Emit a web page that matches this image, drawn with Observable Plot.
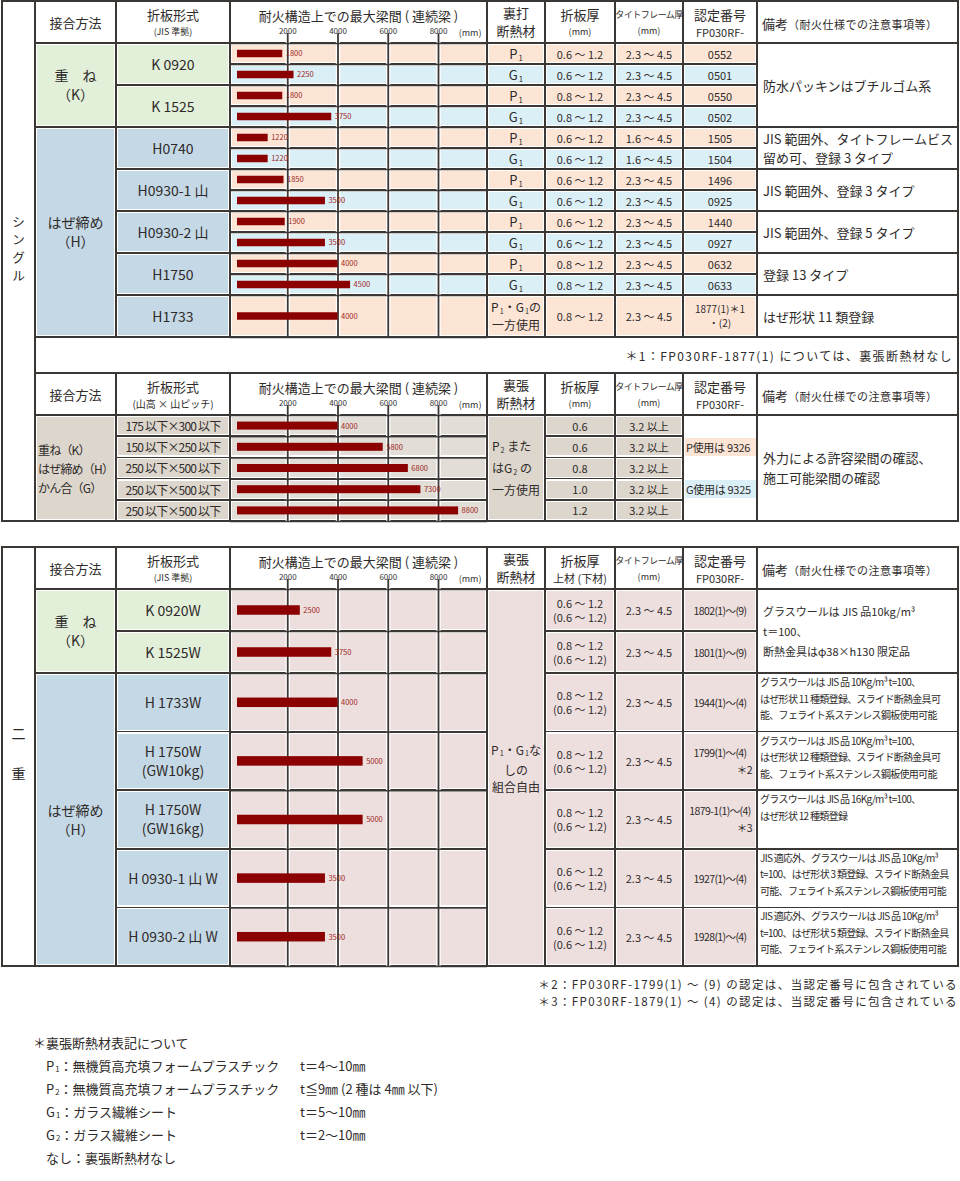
<!DOCTYPE html>
<html><head><meta charset="utf-8">
<script src="https://cdn.jsdelivr.net/npm/d3@7"></script>
<script src="https://cdn.jsdelivr.net/npm/@observablehq/plot@0.6"></script>
<style>
body{margin:0;background:#fff;font-family:"Noto Sans CJK JP","Noto Sans",sans-serif;color:#2e2b2a;}
#page{position:relative;width:960px;height:1181px;overflow:hidden;}
.sb{font-size:60%;position:relative;top:0.22em;margin-left:1px;}
</style></head>
<body><div id="page"></div>
<script>
// ================= DATA =================
const ticks = [2000, 4000, 6000, 8000];

// --- シングル (JIS 準拠) ---
const singleMethod = ["重　ね\n（K）","重　ね\n（K）","重　ね\n（K）","重　ね\n（K）",
  "はぜ締め\n（H）","はぜ締め\n（H）","はぜ締め\n（H）","はぜ締め\n（H）","はぜ締め\n（H）",
  "はぜ締め\n（H）","はぜ締め\n（H）","はぜ締め\n（H）","はぜ締め\n（H）"];
const singleForm = ["K 0920","K 0920","K 1525","K 1525","H0740","H0740","H0930-1 山","H0930-1 山",
  "H0930-2 山","H0930-2 山","H1750","H1750","H1733"];
const singleSpan = [1800, 2250, 1800, 3750, 1220, 1220, 1850, 3500, 1900, 3500, 4000, 4500, 4000];
const singleInsul = ["P1","G1","P1","G1","P1","G1","P1","G1","P1","G1","P1","G1","P1・G1の\n一方使用"];
const singleThick = ["0.6 ～ 1.2","0.6 ～ 1.2","0.8 ～ 1.2","0.8 ～ 1.2","0.6 ～ 1.2","0.6 ～ 1.2",
  "0.6 ～ 1.2","0.6 ～ 1.2","0.6 ～ 1.2","0.6 ～ 1.2","0.8 ～ 1.2","0.8 ～ 1.2","0.8 ～ 1.2"];
const singleFrame = ["2.3 ～ 4.5","2.3 ～ 4.5","2.3 ～ 4.5","2.3 ～ 4.5","1.6 ～ 4.5","1.6 ～ 4.5",
  "2.3 ～ 4.5","2.3 ～ 4.5","2.3 ～ 4.5","2.3 ～ 4.5","2.3 ～ 4.5","2.3 ～ 4.5","2.3 ～ 4.5"];
const singleCert = ["0552","0501","0550","0502","1505","1504","1496","0925","1440","0927","0632","0633","1877(1)＊1\n・(2)"];
const singleNote = ["防水パッキンはブチルゴム系","防水パッキンはブチルゴム系","防水パッキンはブチルゴム系","防水パッキンはブチルゴム系",
  "JIS 範囲外、タイトフレームビス\n留め可、登録 3 タイプ","JIS 範囲外、タイトフレームビス\n留め可、登録 3 タイプ",
  "JIS 範囲外、登録 3 タイプ","JIS 範囲外、登録 3 タイプ",
  "JIS 範囲外、登録 5 タイプ","JIS 範囲外、登録 5 タイプ",
  "登録 13 タイプ","登録 13 タイプ","はぜ形状 11 類登録"];

// --- シングル (山高 × 山ピッチ) ---
const univMethod = Array(5).fill("重ね（K）\nはぜ締め（H）\nかん合（G）");
const univForm = ["175 以下×300 以下","150 以下×250 以下","250 以下×500 以下","250 以下×500 以下","250 以下×500 以下"];
const univSpan = [4000, 5800, 6800, 7300, 8800];
const univInsul = Array(5).fill("P2 また\nはG2 の\n一方使用");
const univThick = ["0.6","0.6","0.8","1.0","1.2"];
const univFrame = ["3.2 以上","3.2 以上","3.2 以上","3.2 以上","3.2 以上"];
const univCert = ["","P使用は 9326","","G使用は 9325",""];
const univNote = Array(5).fill("外力による許容梁間の確認、\n施工可能梁間の確認");

// --- 二重 ---
const dblMethod = ["重　ね\n（K）","重　ね\n（K）","はぜ締め\n（H）","はぜ締め\n（H）","はぜ締め\n（H）","はぜ締め\n（H）","はぜ締め\n（H）"];
const dblForm = ["K 0920W","K 1525W","H 1733W","H 1750W\n(GW10kg)","H 1750W\n(GW16kg)","H 0930-1 山 W","H 0930-2 山 W"];
const dblSpan = [2500, 3750, 4000, 5000, 5000, 3500, 3500];
const dblInsul = Array(7).fill("P1・G1な\nしの\n組合自由");
const dblThick = ["0.6 ～ 1.2\n(0.6 ～ 1.2)","0.8 ～ 1.2\n(0.6 ～ 1.2)","0.8 ～ 1.2\n(0.6 ～ 1.2)","0.8 ～ 1.2\n(0.6 ～ 1.2)",
  "0.8 ～ 1.2\n(0.6 ～ 1.2)","0.6 ～ 1.2\n(0.6 ～ 1.2)","0.6 ～ 1.2\n(0.6 ～ 1.2)"];
const dblFrame = Array(7).fill("2.3 ～ 4.5");
const dblCert = ["1802(1)～(9)","1801(1)～(9)","1944(1)～(4)","1799(1)～(4)\n＊2","1879-1(1)～(4)\n＊3","1927(1)～(4)","1928(1)～(4)"];
const dblNote = [
  "グラスウールは JIS 品10kg/m³\nt＝100、\n断熱金具はφ38×h130 限定品",
  "グラスウールは JIS 品10kg/m³\nt＝100、\n断熱金具はφ38×h130 限定品",
  "グラスウールは JIS 品 10Kg/m³ t=100、\nはぜ形状 11 種類登録、スライド断熱金具可\n能、フェライト系ステンレス鋼板使用可能",
  "グラスウールは JIS 品 10Kg/m³  t=100、\nはぜ形状 12 種類登録、スライド断熱金具可\n能、フェライト系ステンレス鋼板使用可能",
  "グラスウールは JIS 品 16Kg/m³  t=100、\nはぜ形状 12 種類登録",
  "JIS 適応外、グラスウールは JIS 品 10Kg/m³\nt=100、はぜ形状 3 類登録、スライド断熱金具\n可能、フェライト系ステンレス鋼板使用可能",
  "JIS 適応外、グラスウールは JIS 品 10Kg/m³\nt=100、はぜ形状 5 類登録、スライド断熱金具\n可能、フェライト系ステンレス鋼板使用可能"];

// --- headers / notes ---
const headJIS = ["接合方法","折板形式","耐火構造上での最大梁間 ( 連続梁 )","断熱材","折板厚","タイトフレーム厚","認定番号","備考"];
const headSubs1 = ["","(JIS 準拠)","","裏打","(mm)","(mm)","FP030RF-","（耐火仕様での注意事項等）"];
const headSubs2 = ["","(山高 × 山ピッチ)","","裏張","(mm)","(mm)","FP030RF-","（耐火仕様での注意事項等）"];
const headSubs3 = ["","(JIS 準拠)","","裏張","上材 (下材)","(mm)","FP030RF-","（耐火仕様での注意事項等）"];
const sideLabels = ["シングル","二　重"];
const note1 = "＊1：FP030RF-1877(1) については、裏張断熱材なし";
const note2 = "＊2：FP030RF-1799(1) ～ (9) の認定は、当認定番号に包含されている";
const note3 = "＊3：FP030RF-1879(1) ～ (4) の認定は、当認定番号に包含されている";
const legendTitle = "＊裏張断熱材表記について";
const legendKeys = ["P1：無機質高充填フォームプラスチック","P2：無機質高充填フォームプラスチック","G1：ガラス繊維シート","G2：ガラス繊維シート","なし：裏張断熱材なし"];
const legendVals = ["t＝4～10㎜","t≦9㎜ (2 種は 4㎜ 以下)","t＝5～10㎜","t＝2～10㎜",""];

// ================= LAYOUT / STYLE =================
const COLS = [2,35,116,230,487,545,615,683,757,958];
const LINE = "#3b3735";
const C = {peach:"#fde5d6", blue:"#dbeff7", green:"#e2efd9", hblue:"#c5d8e5", tan:"#ddd6cc", tanBar:"#e2ddd6", pink:"#eedfdf", white:"#fff"};
const LW = 1.6;
const page = document.getElementById("page");

function add(style, html="") {
  const d = document.createElement("div");
  d.style.cssText = "position:absolute;" + style;
  d.innerHTML = html;
  page.appendChild(d);
  return d;
}
function hline(x1,x2,y){ add(`left:${x1-LW/2}px;top:${y-LW/2}px;width:${x2-x1+LW}px;height:${LW}px;background:${LINE}`); }
function vline(x,y1,y2){ add(`left:${x-LW/2}px;top:${y1-LW/2}px;width:${LW}px;height:${y2-y1+LW}px;background:${LINE}`); }
function frame(x1,y1,x2,y2){ hline(x1,x2,y1); hline(x1,x2,y2); vline(x1,y1,y2); vline(x2,y1,y2); }
function fill(x1,y1,x2,y2,bg,ins=2){ if(bg && bg!==C.white) add(`left:${x1+ins}px;top:${y1+ins}px;width:${x2-x1-2*ins}px;height:${y2-y1-2*ins}px;background:${bg}`); }
function inline(s){ return s.replace(/([PG])([12])/g,'$1<span class="sb">$2</span>'); }
function lines(s){ return s.split("\n").map(l => /^＊\d$/.test(l)
  ? `<div style="align-self:flex-end;padding-right:5px">${inline(l)}</div>` : `<div>${inline(l) || "&nbsp;"}</div>`).join(""); }
function textBox(x1,y1,x2,y2,html,st=""){
  add(`left:${x1}px;top:${y1}px;width:${x2-x1}px;height:${y2-y1}px;box-sizing:border-box;display:flex;flex-direction:column;justify-content:center;align-items:center;text-align:center;white-space:nowrap;${st}`, html);
}
function cum(start, hs){ const r=[start]; for(const h of hs) r.push(r[r.length-1]+h); return r; }

const LEFT = "align-items:flex-start;text-align:left;";

function column(ci, ys, values, fillFn, merge, st){
  let i=0;
  while(i<values.length){
    let j=i+1;
    if(merge) while(j<values.length && values[j]===values[i]) j++;
    const x1=COLS[ci], x2=COLS[ci+1], y1=ys[i], y2=ys[j];
    fill(x1,y1,x2,y2, fillFn(i));
    frame(x1,y1,x2,y2);
    if(values[i]) textBox(x1,y1,x2,y2, lines(values[i]), typeof st==="function" ? st(i) : st);
    i=j;
  }
}

function header(top, hb, subs){
  for(let k=0;k<8;k++){
    const ci=k+1, x1=COLS[ci], x2=COLS[ci+1];
    frame(x1,top,x2,hb);
    const main = headJIS[k], sub = subs[k];
    if(k===0) textBox(x1,top,x2,hb,`<div>${main}</div>`,"font-size:13px;");
    else if(k===2) textBox(x1,top,x2,top+29,`<div>${main}</div>`,"font-size:13px;");
    else if(k===3) textBox(x1,top,x2,hb,`<div>${sub}</div><div>${main}</div>`,"font-size:13px;line-height:18px;");
    else if(k===7) textBox(x1,top,x2,hb,`<div><span style="font-size:13px">${main}</span><span style="font-size:11px;letter-spacing:0.5px">${sub}</span></div>`, LEFT+"padding-left:5px;");
    else {
      const ms = k===5 ? "font-size:9px;letter-spacing:-0.5px;line-height:18px" : "font-size:13px;line-height:20px";
      const ss = (k===6 || sub.startsWith("上")) ? "font-size:11px;line-height:14px" : (sub.startsWith("(山") ? "font-size:10px;line-height:14px" : "font-size:9px;line-height:14px");
      textBox(x1,top,x2,hb,`<div style="${ms}">${main}</div><div style="${ss}">${sub}</div>`,"");
    }
  }
}

function barPlot(top, rowYs, spans, bh){
  const H = rowYs[rowYs.length-1] - top;
  const TT = 32;
  const rows = spans.map((s,i)=>({span:s, yc:(rowYs[i]+rowYs[i+1])/2 - top}));
  const bounds = rowYs.map(y=>y-top);
  const svg = Plot.plot({
    width: 257, height: H+2,
    marginTop: TT, marginBottom: 0, marginLeft: 0, marginRight: 0,
    x: {domain:[0,8000], range:[7,208]},
    y: {domain:[0,H+2], range:[0,H+2], axis:null},
    style: "background:transparent;font-family:'Noto Sans CJK JP',sans-serif;overflow:visible;",
    marks: [
      Plot.ruleX(ticks, {y1: TT, y2: H, stroke:"#fff", strokeWidth:4.5}),
      Plot.ruleY(bounds, {stroke: LINE, strokeWidth: 1.6}),
      Plot.ruleX(ticks, {y1: TT, y2: H, stroke: LINE, strokeWidth: 1.8}),
      Plot.axisX(ticks, {anchor:"top", tickSize:0, tickPadding:0, fontSize:8, tickFormat:d=>String(d), fill:"#333", label:null}),
      Plot.text(["(mm)"], {frameAnchor:"top-right", textAnchor:"end", lineAnchor:"middle", dx:-6, dy:0, fontSize:9, fill:"#333"}),
      Plot.rect(rows, {x1:0, x2:"span", y1:d=>d.yc-bh/2, y2:d=>d.yc+bh/2, fill:"#8b0000"}),
      Plot.text(rows, {x:"span", y:"yc", text:d=>String(d.span), textAnchor:"start", dx:3, fontSize:7.5, fill:"#a0281e"})
    ]
  });
  svg.style.position="absolute"; svg.style.left="230px"; svg.style.top=top+"px";
  page.appendChild(svg);
}

// ================= TABLE 1 : シングル JIS =================
{
  const top=1, hb=43;
  const ys = cum(hb, [21,21,21,21,21,21,21,21,21,21,21,21,42]);
  header(top, hb, headSubs1);
  const kh = i => singleMethod[i].includes("K") ? C.green : C.hblue;
  const pg = i => singleInsul[i].startsWith("G") ? C.blue : C.peach;
  column(1, ys, singleMethod, kh, true, "font-size:14px;line-height:19px;");
  column(2, ys, singleForm, kh, true, "font-size:14px;");
  column(3, ys, singleSpan.map(()=>" "), pg, false, "");
  column(4, ys, singleInsul, pg, false, i => i===12 ? "font-size:12px;line-height:16px;" : "font-size:13px;");
  column(5, ys, singleThick, pg, false, "font-size:11px;");
  column(6, ys, singleFrame, pg, false, "font-size:11px;");
  column(7, ys, singleCert, pg, false, i => i===12 ? "font-size:10px;line-height:14px;" : "font-size:11px;");
  column(8, ys, singleNote, ()=>C.white, true, LEFT+"padding-left:6px;font-size:13px;line-height:19px;");
  barPlot(top, ys, singleSpan, 7.5);
  // footnote row
  frame(35,337,958,373);
  textBox(35,337,953,373, `<div>${note1}</div>`, "align-items:flex-end;font-size:12px;letter-spacing:1.4px;");
}

// ================= TABLE 2 : シングル 山高×山ピッチ =================
{
  const top=373, hb=415;
  const ys = cum(hb, [21.2,21.2,21.2,21.2,21.2]);
  header(top, hb, headSubs2);
  column(1, ys, univMethod, ()=>C.tan, true, LEFT+"padding-left:3px;font-size:12px;letter-spacing:-0.8px;line-height:19px;");
  column(2, ys, univForm, ()=>C.tan, false, "font-size:12px;letter-spacing:-0.8px;");
  column(3, ys, univSpan.map(()=>" "), ()=>C.tanBar, false, "");
  column(4, ys, univInsul, ()=>C.tan, true, LEFT+"padding-left:5px;font-size:12px;line-height:20px;");
  column(5, ys, univThick, ()=>C.tan, false, "font-size:11px;");
  column(6, ys, univFrame, ()=>C.tan, false, "font-size:11px;");
  // certification column: one merged cell with highlighted entries
  frame(COLS[7], hb, COLS[8], ys[ys.length-1]);
  univCert.forEach((v,i)=>{
    if(!v) return;
    fill(COLS[7], ys[i], COLS[8], ys[i+1], v.startsWith("P") ? C.peach : C.blue, 1.5);
    textBox(COLS[7], ys[i], COLS[8], ys[i+1], lines(v), LEFT+"padding-left:3px;font-size:11px;letter-spacing:-0.3px;");
  });
  column(8, ys, univNote, ()=>C.white, true, LEFT+"padding-left:6px;font-size:13px;line-height:20px;");
  barPlot(top, ys, univSpan, 8);
  // side column
  frame(2,1,35,521);
  textBox(2,1,35,501, `<div>${sideLabels[0]}</div>`, "writing-mode:vertical-rl;font-size:13px;letter-spacing:5px;");
}

// ================= TABLE 3 : 二重 =================
{
  const top=547, hb=589;
  const ys = cum(hb, [42,42,58.6,58.6,58.6,58.6,58.6]);
  header(top, hb, headSubs3);
  const kh = i => dblMethod[i].includes("K") ? C.green : C.hblue;
  column(1, ys, dblMethod, kh, true, "font-size:14px;line-height:19px;");
  column(2, ys, dblForm, kh, false, "font-size:14px;line-height:19px;");
  column(3, ys, dblSpan.map(()=>" "), ()=>C.pink, false, "");
  column(4, ys, dblInsul, ()=>C.pink, true, "font-size:12px;line-height:17px;padding-bottom:20px;");
  column(5, ys, dblThick, ()=>C.pink, false, "font-size:11px;line-height:14px;");
  column(6, ys, dblFrame, ()=>C.pink, false, "font-size:11px;");
  column(7, ys, dblCert, ()=>C.pink, false, "font-size:10.5px;line-height:17px;letter-spacing:-0.6px;");
  column(8, ys, dblNote, ()=>C.white, true, i => i<2
    ? LEFT+"padding-left:6px;font-size:11px;line-height:20px;"
    : LEFT+"justify-content:flex-start;padding-top:1px;padding-left:3px;font-size:10px;line-height:16.5px;letter-spacing:-0.7px;");
  barPlot(top, ys, dblSpan, 9.5);
  frame(2,547,35,966);
  textBox(2,547,35,966, `<div>${sideLabels[1]}</div>`, "writing-mode:vertical-rl;font-size:14px;letter-spacing:6px;");
}

// ================= NOTES & LEGEND =================
textBox(400,975,958,993, `<div>${note2}</div>`, "align-items:flex-end;font-size:11.5px;letter-spacing:1.4px;");
textBox(400,992,958,1010, `<div>${note3}</div>`, "align-items:flex-end;font-size:11.5px;letter-spacing:1.4px;");
textBox(33,1033,400,1051, `<div>${legendTitle}</div>`, LEFT+"font-size:13px;");
legendKeys.forEach((k,i)=>{
  const y = 1056 + i*23;
  textBox(46,y,300,y+18, `<div>${inline(k)}</div>`, LEFT+"font-size:13px;");
  if(legendVals[i]) textBox(300,y,600,y+18, `<div>${legendVals[i]}</div>`, LEFT+"font-size:13px;");
});
</script>
</body></html>
